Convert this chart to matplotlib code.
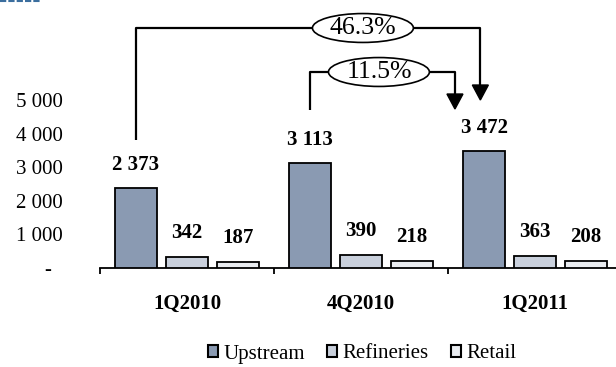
import matplotlib
matplotlib.use("Agg")
import matplotlib.pyplot as plt
from matplotlib.patches import Ellipse, Polygon, Patch
from matplotlib.lines import Line2D
import numpy as np

# Data
quarters = ["1Q2010", "4Q2010", "1Q2011"]
series_names = ["Upstream", "Refineries", "Retail"]
upstream = [2373, 3113, 3472]
refineries = [342, 390, 363]
retail = [187, 218, 208]
y_ticks = [0, 1000, 2000, 3000, 4000, 5000]
y_tick_labels = ["-  ", "1 000", "2 000", "3 000", "4 000", "5 000"]

colors = ["#8a9ab2", "#c9d0dc", "#e9ecf0"]

plt.rcParams["font.family"] = ["Liberation Serif", "DejaVu Serif"]
FS = 15

W, H = 616, 367
fig = plt.figure(figsize=(W / 100, H / 100), dpi=100)

# axes: x from 100 px to 622 px, baseline at 268 px from top
ax = fig.add_axes([100 / W, (H - 268) / H, 522 / W, 268 / H])
px_per_unit = 168 / 5000
ax.set_ylim(0, 268 / px_per_unit)
ax.set_xlim(-0.5, 2.5)

x = np.arange(len(quarters))
bw = 0.236
offs = [-0.293, 0.0, 0.293]
all_series = [upstream, refineries, retail]
for vals, off, c in zip(all_series, offs, colors):
    ax.bar(x + off, vals, width=bw, color=c, edgecolor="black",
           linewidth=1.3, zorder=3)
    for xi, v in zip(x + off, vals):
        ax.annotate(f"{v:,}".replace(",", " "), (xi, v), xytext=(0, 17),
                    textcoords="offset points", ha="center", va="center",
                    fontsize=FS, fontweight="bold")

for s in ["top", "right", "left"]:
    ax.spines[s].set_visible(False)
ax.spines["bottom"].set_linewidth(1.3)

ax.set_yticks(y_ticks)
ax.set_yticklabels(y_tick_labels, fontsize=FS)
ax.tick_params(axis="y", length=0, pad=27)

ax.set_xticks([-0.5, 0.5, 1.5, 2.5])
ax.set_xticklabels([])
ax.tick_params(axis="x", which="major", direction="out", length=4.5, width=1.3)
ax.set_xticks(x, minor=True)
ax.set_xticklabels(quarters, minor=True, fontsize=FS, fontweight="bold")
ax.tick_params(axis="x", which="minor", length=0, pad=19)


def ypx(p):
    """data y for a pixel row measured from the top of the figure"""
    return (268 - p) / px_per_unit


def bracket(x0, y0, ytop, x1, ytip, xc, label):
    lw = 1.6
    ax.plot([x0, x0, x1, x1], [y0, ytop, ytop, ytip + 440], color="black",
            lw=lw, clip_on=False, zorder=4, solid_capstyle="butt")
    hw = 0.046
    ax.add_patch(Polygon([[x1 - hw, ytip + 446], [x1 + hw, ytip + 446], [x1, ytip]],
                         closed=True, color="black", clip_on=False, zorder=4))
    ax.add_patch(Ellipse((xc, ytop), 0.58, 860, facecolor="white",
                         edgecolor="black", lw=1.2, clip_on=False, zorder=5))
    ax.text(xc, ytop, label, ha="center", va="center", fontsize=18.5,
            zorder=6)


g463 = upstream[2] / upstream[0] - 1
g115 = upstream[2] / upstream[1] - 1
bracket(-0.293, ypx(140), ypx(28), 1.686, ypx(100), 1.011, f"{g463 * 100:.1f}%")
bracket(0.707, ypx(110), ypx(72), 1.540, ypx(109), 1.103, f"{g115 * 100:.1f}%")

handles = [Patch(facecolor=c, edgecolor="black", linewidth=1.5) for c in colors]
fig.legend(handles, series_names, loc="center", bbox_to_anchor=(362 / W, 1 - 354 / H),
           ncol=3, frameon=False, fontsize=FS, handlelength=0.5, handleheight=0.5,
           handletextpad=0.25, columnspacing=1.05, borderpad=0, borderaxespad=0)

# dashed rule at the top-left corner
fig.add_artist(Line2D([0, 40 / W], [1 - 0.8 / H, 1 - 0.8 / H], color="#3b6e9e",
                      lw=1.5, ls=(0, (3, 1))))

fig.savefig("out.png", dpi=100)
